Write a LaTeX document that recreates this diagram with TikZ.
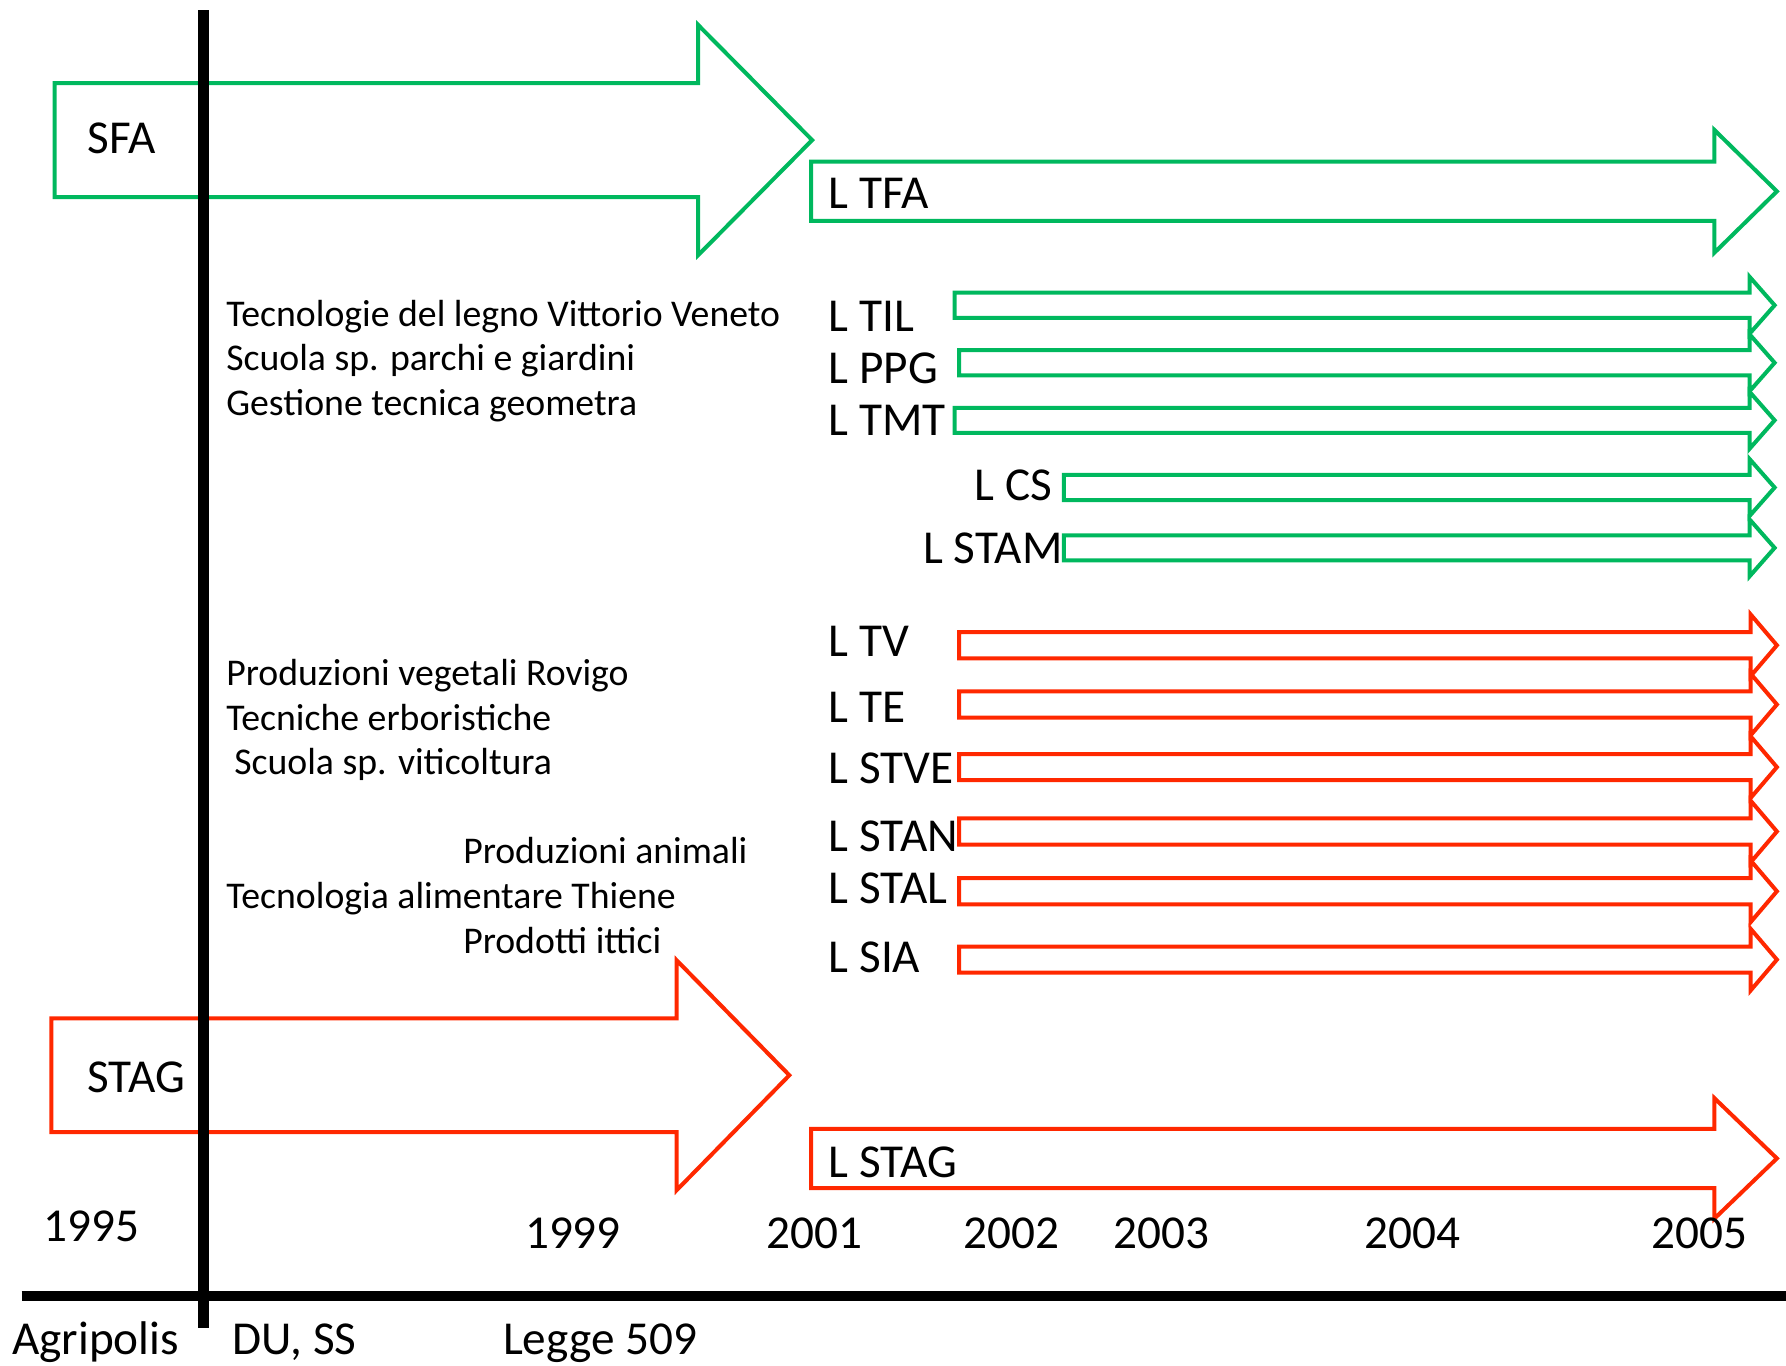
\documentclass[tikz,border=0pt]{standalone}
\usepackage{fontspec}
\setmainfont{Carlito}
\definecolor{verde}{RGB}{0,184,94}
\definecolor{rosso}{RGB}{255,40,0}
\tikzset{
  grande/.style={font=\fontsize{11.8}{14}\selectfont, inner sep=0pt, anchor=base west},
  piccolo/.style={font=\fontsize{9.43}{11}\selectfont, inner sep=0pt, anchor=base west},
  anno/.style={font=\fontsize{11.8}{14}\selectfont, inner sep=0pt, anchor=base},
  fverde/.style={draw=verde, line width=1pt},
  frossa/.style={draw=rosso, line width=1pt},
  asse/.style={line width=2.6pt}
}
\begin{document}
\begin{tikzpicture}
            \useasboundingbox (0, 0) rectangle (15.68, -11.99);
            % frecce grandi
            \draw [fverde] (0.48, -0.73) -- (6.13, -0.73) -- (6.13, -0.22) -- (7.13, -1.23) -- (6.13, -2.24) -- (6.13, -1.73) -- (0.48, -1.73) -- cycle;
            \draw [fverde] (7.12, -1.42) -- (15.05, -1.42) -- (15.05, -1.14) -- (15.60, -1.68) -- (15.05, -2.22) -- (15.05, -1.94) -- (7.12, -1.94) -- cycle;
            \draw [frossa] (0.45, -8.94) -- (5.94, -8.94) -- (5.94, -8.43) -- (6.93, -9.44) -- (5.94, -10.45) -- (5.94, -9.94) -- (0.45, -9.94) -- cycle;
            \draw [frossa] (7.12, -9.91) -- (15.05, -9.91) -- (15.05, -9.64) -- (15.60, -10.17) -- (15.05, -10.70) -- (15.05, -10.43) -- (7.12, -10.43) -- cycle;
            % frecce sottili
            \foreach \xa/\yc in {8.38/-2.68, 8.42/-3.185, 8.38/-3.69, 9.34/-4.28, 9.34/-4.81}
                \draw [fverde] (\xa, \yc+0.11) -- (15.36, \yc+0.11) -- (15.36, \yc+0.25) -- (15.58, \yc) -- (15.36, \yc-0.25) -- (15.36, \yc-0.11) -- (\xa, \yc-0.11) -- cycle;
            \foreach \yc in {-5.665, -6.185, -6.735, -7.30, -7.825, -8.425}
                \draw [frossa] (8.42, \yc+0.115) -- (15.37, \yc+0.115) -- (15.37, \yc+0.27) -- (15.60, \yc) -- (15.37, \yc-0.27) -- (15.37, \yc-0.115) -- (8.42, \yc-0.115) -- cycle;
            % assi
            \draw [asse] (1.785, -0.09) -- (1.785, -11.66);
            \draw [asse] (0.19, -11.38) -- (15.68, -11.38);
            % etichette
            \node [grande] (sfa) at (0.76, -1.35) {SFA};
            \node [grande] (ltfa) at (7.27, -1.83) {L TFA};
            \node [grande] (ltil) at (7.27, -2.91) {L TIL};
            \node [grande] (lppg) at (7.27, -3.37) {L PPG};
            \node [grande] (ltmt) at (7.27, -3.82) {L TMT};
            \node [grande] (lcs) at (8.55, -4.39) {L CS};
            \node [grande] (lstam) at (8.10, -4.95) {L STAM};
            \node [grande] (ltv) at (7.27, -5.76) {L TV};
            \node [grande] (lte) at (7.27, -6.34) {L TE};
            \node [grande] (lstve) at (7.27, -6.88) {L STVE};
            \node [grande] (lstan) at (7.27, -7.48) {L STAN};
            \node [grande] (lstal) at (7.27, -7.93) {L STAL};
            \node [grande] (lsia) at (7.27, -8.54) {L SIA};
            \node [grande] (stag) at (0.76, -9.59) {STAG};
            \node [grande] (lstag) at (7.27, -10.34) {L STAG};
            \node [piccolo] (legno) at (1.98, -2.87) {Tecnologie del legno Vittorio Veneto};
            \node [piccolo] (parchi) at (1.98, -3.25) {Scuola sp. parchi e giardini};
            \node [piccolo] (geometra) at (1.98, -3.65) {Gestione tecnica geometra};
            \node [piccolo] (vegetali) at (1.98, -6.02) {Produzioni vegetali Rovigo};
            \node [piccolo] (erbor) at (1.98, -6.41) {Tecniche erboristiche};
            \node [piccolo] (viti) at (2.05, -6.80) {Scuola sp. viticoltura};
            \node [piccolo] (animali) at (4.06, -7.58) {Produzioni animali};
            \node [piccolo] (alim) at (1.98, -7.98) {Tecnologia alimentare Thiene};
            \node [piccolo] (ittici) at (4.06, -8.37) {Prodotti ittici};
            % anni
            \node [anno] (a1995) at (0.80, -10.90) {1995};
            \node [anno] (a1999) at (5.03, -10.96) {1999};
            \node [anno] (a2001) at (7.15, -10.96) {2001};
            \node [anno] (a2002) at (8.88, -10.96) {2002};
            \node [anno] (a2003) at (10.20, -10.96) {2003};
            \node [anno] (a2004) at (12.40, -10.96) {2004};
            \node [anno] (a2005) at (14.92, -10.96) {2005};
            \node [grande] (agri) at (0.10, -11.89) {Agripolis};
            \node [grande] (duss) at (2.03, -11.89) {DU, SS};
            \node [grande] (legge) at (4.41, -11.89) {Legge 509};
        \end{tikzpicture}
\end{document}
